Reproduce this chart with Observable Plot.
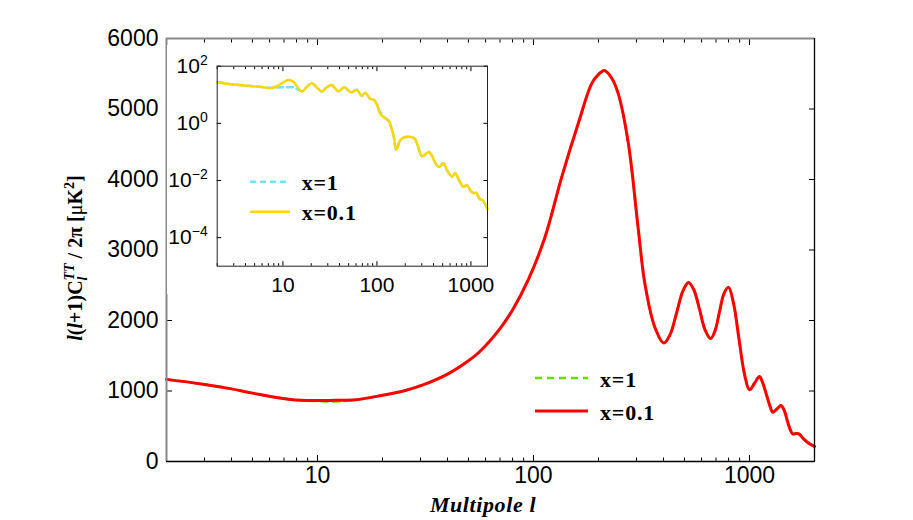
<!DOCTYPE html>
<html><head><meta charset="utf-8">
<script src="https://cdn.jsdelivr.net/npm/d3@7"></script>
<script src="https://cdn.jsdelivr.net/npm/@observablehq/plot@0.6"></script>
<style>
body{margin:0;background:#fff;}
#wrap{position:relative;width:913px;height:520px;overflow:hidden;}
#main,#inset{position:absolute;}
#main{left:0;top:0;}
#inset{left:167px;top:45px;}
</style></head><body>
<div id="wrap"><div id="main"></div><div id="inset"></div></div>
<script>
// ---------------- data ----------------
const mainEll = [2, 2.9, 4, 5, 7.5, 10, 12, 15, 20, 25, 31, 40, 50, 56, 69, 80, 95, 113, 135, 161, 186, 200, 213, 230, 247, 275, 305, 328, 365, 401, 429, 460, 492, 522, 552, 588, 624, 661, 692, 726, 762, 800, 843, 894, 948, 1000, 1055, 1112, 1150, 1195, 1240, 1282, 1340, 1400, 1450, 1503, 1550, 1585, 1650, 1700, 1780, 1880, 2000];
const mainX01 = [1165, 1100, 1030, 970, 880, 865, 868, 875, 940, 1000, 1090, 1240, 1430, 1550, 1860, 2150, 2590, 3180, 4030, 4790, 5360, 5490, 5546, 5440, 5215, 4510, 3320, 2520, 1900, 1681, 1800, 2110, 2420, 2540, 2440, 2150, 1860, 1745, 1850, 2120, 2380, 2470, 2250, 1740, 1240, 1017, 1110, 1206, 1120, 960, 800, 700, 745, 794, 720, 558, 440, 393, 396, 388, 322, 260, 215];
const mainX1  = [1165, 1100, 1030, 970, 880, 858, 852, 872, 940, 1000, 1090, 1240, 1430, 1550, 1860, 2150, 2590, 3180, 4030, 4790, 5360, 5490, 5546, 5440, 5215, 4510, 3320, 2520, 1900, 1681, 1800, 2110, 2420, 2540, 2440, 2150, 1860, 1745, 1850, 2120, 2380, 2470, 2250, 1740, 1240, 1017, 1110, 1206, 1120, 960, 800, 700, 745, 794, 720, 558, 440, 393, 396, 388, 322, 260, 215];

const insetEll = [2, 3, 4.5, 6, 7.3, 8.6, 10, 11.5, 13, 15.9, 18, 20.3, 23, 26, 29, 33, 39, 45, 53, 61, 69, 75, 85, 92, 100, 108, 117, 125, 133, 142, 150, 160, 165, 175, 190, 218, 250, 270, 300, 320, 354, 380, 420, 460, 510, 560, 630, 680, 750, 835, 905, 1000, 1080, 1130, 1250, 1320, 1500];
const insetX01 = [27.5, 22.9, 20.4, 18.6, 17.0, 19.5, 26.9, 33.1, 28.2, 12.9, 19.1, 25.1, 17.8, 12.9, 17.8, 21.9, 13.2, 18.2, 12.0, 15.1, 9.1, 11.7, 7.1, 6.8, 4.5, 2.2, 1.7, 1.45, 1.26, 0.71, 0.39, 0.12, 0.141, 0.24, 0.31, 0.34, 0.30, 0.178, 0.071, 0.076, 0.1, 0.079, 0.040, 0.030, 0.040, 0.022, 0.0135, 0.0178, 0.010, 0.006, 0.0069, 0.0042, 0.0036, 0.0038, 0.0022, 0.0021, 0.001];
const insetX1  = [27.5, 22.9, 20.4, 18.6, 17.5, 18.0, 18.2, 18.2, 18.0, 13.5, 19.1, 25.1, 17.8, 12.9, 17.8, 21.9, 13.2, 18.2, 12.0, 15.1, 9.1, 11.7, 7.1, 6.8, 4.8, 2.5, 1.8, 1.45, 1.26, 0.71, 0.39, 0.12, 0.141, 0.24, 0.31, 0.34, 0.30, 0.178, 0.071, 0.076, 0.1, 0.079, 0.040, 0.030, 0.040, 0.022, 0.0135, 0.0178, 0.010, 0.006, 0.0069, 0.0042, 0.0036, 0.0038, 0.0022, 0.0021, 0.001];

const mainXDomain = [2, 2000];
const mainYDomain = [0, 6000];
const mainXTicks = [10, 100, 1000];
const mainXMinor = [2,3,4,5,6,7,8,9,20,30,40,50,60,70,80,90,200,300,400,500,600,700,800,900];
const mainYTicks = [0, 1000, 2000, 3000, 4000, 5000, 6000];
const insetXDomain = [2, 1500];
const insetYDomain = [1e-5, 1e2];
const insetXTicks = [10, 100, 1000];
const insetXMinor = [2,3,4,5,6,7,8,9,20,30,40,50,60,70,80,90,200,300,400,500,600,700,800,900];
const insetYTicks = [1e2, 1, 1e-2, 1e-4];
const seriesLabels = ["x=1", "x=0.1"];
const xLabel = "Multipole l";

// --------------- colours ---------------
const cRed = "#ff0000", cGreen = "#66dd00", cYellow = "#ffd700", cCyan = "#66e8ff";
const sans = "'Liberation Sans', Arial, Helvetica, sans-serif";
const serif = "'Liberation Serif', 'Times New Roman', serif";

const mainRows = mainEll.map((l, i) => ({l, a: mainX1[i], b: mainX01[i]}));
const insetRows = insetEll.map((l, i) => ({l, a: insetX1[i], b: insetX01[i]}));

// --------------- main chart ---------------
const main = Plot.plot({
  width: 913, height: 520,
  marginLeft: 166, marginRight: 99, marginTop: 38, marginBottom: 59,
  style: {background: "white", fontFamily: sans, overflow: "visible"},
  x: {type: "log", domain: mainXDomain, label: null},
  y: {domain: mainYDomain, label: null},
  marks: [
    Plot.axisX({ticks: mainXTicks, tickSize: -6, tickPadding: 11, tickFormat: d => String(d), label: null, fontSize: 23, fontFamily: sans, stroke: "black", fill: "black"}),
    Plot.axisX({ticks: mainXMinor, tickSize: -3.5, fill: null, label: null, stroke: "black"}),
    Plot.axisX({anchor: "top", ticks: mainXTicks, tickSize: -6, fill: null, label: null, stroke: "black"}),
    Plot.axisX({anchor: "top", ticks: mainXMinor, tickSize: -3.5, fill: null, label: null, stroke: "black"}),
    Plot.axisY({ticks: mainYTicks, tickSize: -6, tickPadding: 14, tickFormat: d => String(d), label: null, fontSize: 23, fontFamily: sans, stroke: "black", fill: "black"}),
    Plot.axisY({anchor: "right", ticks: mainYTicks, tickSize: -6, fill: null, label: null, stroke: "black"}),
    Plot.line(mainRows, {x: "l", y: "a", stroke: cGreen, strokeWidth: 2.5, strokeDasharray: "7,5", curve: "catmull-rom"}),
    Plot.line(mainRows, {x: "l", y: "b", stroke: cRed, strokeWidth: 3, curve: "catmull-rom"}),
    Plot.ruleX([mainXDomain[0]], {stroke: "#888", strokeWidth: 2}),
    Plot.ruleY([mainYDomain[1]], {stroke: "#888", strokeWidth: 2}),
    Plot.ruleX([mainXDomain[1]], {stroke: "black", strokeWidth: 1.3}),
    Plot.ruleY([mainYDomain[0]], {stroke: "black", strokeWidth: 1.3})
  ]
});
document.getElementById("main").appendChild(main);

const ms = d3.select(main);
// y label
const yl = ms.append("text")
  .attr("transform", "translate(82,258) rotate(-90)")
  .attr("text-anchor", "middle")
  .attr("font-family", serif).attr("font-weight", "bold").attr("font-size", 20)
  .attr("fill", "black");
yl.append("tspan").attr("font-style", "italic").text("l");
yl.append("tspan").text("(");
yl.append("tspan").attr("font-style", "italic").text("l");
yl.append("tspan").text("+1)C");
yl.append("tspan").attr("font-style", "italic").attr("font-size", 14).attr("dy", 5).text("l");
yl.append("tspan").attr("font-style", "italic").attr("font-size", 14).attr("dx", -4).attr("dy", -13).text("TT");
yl.append("tspan").attr("dy", 8).text(" / 2π [");
yl.append("tspan").attr("font-weight", "normal").text("μ");
yl.append("tspan").text("K");
yl.append("tspan").attr("font-size", 14).attr("dy", -8).text("2");
yl.append("tspan").attr("dy", 8).text("]");
// x label
ms.append("text").attr("x", 483).attr("y", 512).attr("text-anchor", "middle")
  .attr("font-family", serif).attr("font-weight", "bold").attr("font-style", "italic")
  .attr("font-size", 22).attr("letter-spacing", 0.6).attr("fill", "black").text(xLabel);
// main legend
const lg = ms.append("g");
const mainLegend = [{c: cGreen, dash: "7,5", w: 2.5, y: 378}, {c: cRed, dash: null, w: 3, y: 411}];
mainLegend.forEach((d, i) => {
  lg.append("line").attr("x1", 535).attr("x2", 588).attr("y1", d.y).attr("y2", d.y)
    .attr("stroke", d.c).attr("stroke-width", d.w).attr("stroke-dasharray", d.dash);
  lg.append("text").attr("x", 600).attr("y", d.y + 9).attr("text-anchor", "start").attr("font-family", serif)
    .attr("font-weight", "bold").attr("font-size", 22).attr("letter-spacing", 0.8)
    .attr("fill", "black").text(seriesLabels[i]);
});

// --------------- inset chart ---------------
const inset = Plot.plot({
  width: 331, height: 249,
  marginLeft: 49.7, marginRight: 11, marginTop: 20.7, marginBottom: 28.3,
  style: {background: "white", fontFamily: sans, overflow: "visible"},
  x: {type: "log", domain: insetXDomain, label: null},
  y: {type: "log", domain: insetYDomain, label: null},
  marks: [
    Plot.axisX({ticks: insetXTicks, tickSize: -4.5, tickPadding: 15.5, tickFormat: d => String(d), label: null, fontSize: 21, fontFamily: sans, stroke: "black", fill: "black"}),
    Plot.axisX({ticks: insetXMinor, tickSize: -2.5, fill: null, label: null, stroke: "black"}),
    Plot.axisX({anchor: "top", ticks: insetXTicks, tickSize: -4.5, fill: null, label: null, stroke: "black"}),
    Plot.axisX({anchor: "top", ticks: insetXMinor, tickSize: -2.5, fill: null, label: null, stroke: "black"}),
    Plot.axisY({ticks: insetYTicks, tickSize: -4.5, tickPadding: 14, label: null, fontSize: 21, fontFamily: sans, stroke: "black", fill: "black",
      tickFormat: d => "10^" + String(Math.round(Math.log10(d))).replace("-", "\u2212")}),
    Plot.axisY({anchor: "right", ticks: insetYTicks, tickSize: -4.5, fill: null, label: null, stroke: "black"}),
    Plot.line(insetRows, {x: "l", y: "a", stroke: cCyan, strokeWidth: 2.5, strokeDasharray: "6,4", curve: "catmull-rom"}),
    Plot.line(insetRows, {x: "l", y: "b", stroke: cYellow, strokeWidth: 2.5, curve: "catmull-rom"}),
    Plot.frame({stroke: "#222", strokeWidth: 1})
  ]
});
document.getElementById("inset").appendChild(inset);
const is = d3.select(inset);
is.selectAll('g[aria-label="y-axis tick label"] text').each(function () {
  const t = d3.select(this);
  const s = t.text();
  const parts = s.split("^");
  t.text(null);
  t.append("tspan").text(parts[0]);
  t.append("tspan").attr("dy", "-0.6em").attr("font-size", 14).text(parts[1]);
});
const insetLegend = [{c: cCyan, dash: "6,4", y: 136.7}, {c: cYellow, dash: null, y: 166.7}];
const ilg = is.append("g");
insetLegend.forEach((d, i) => {
  ilg.append("line").attr("x1", 83).attr("x2", 123).attr("y1", d.y).attr("y2", d.y)
    .attr("stroke", d.c).attr("stroke-width", 2.5).attr("stroke-dasharray", d.dash);
  ilg.append("text").attr("x", 134.7).attr("y", d.y + 8).attr("text-anchor", "start").attr("font-family", serif)
    .attr("font-weight", "bold").attr("font-size", 22).attr("letter-spacing", 0.8)
    .attr("fill", "black").text(seriesLabels[i]);
});
</script>
</body></html>
